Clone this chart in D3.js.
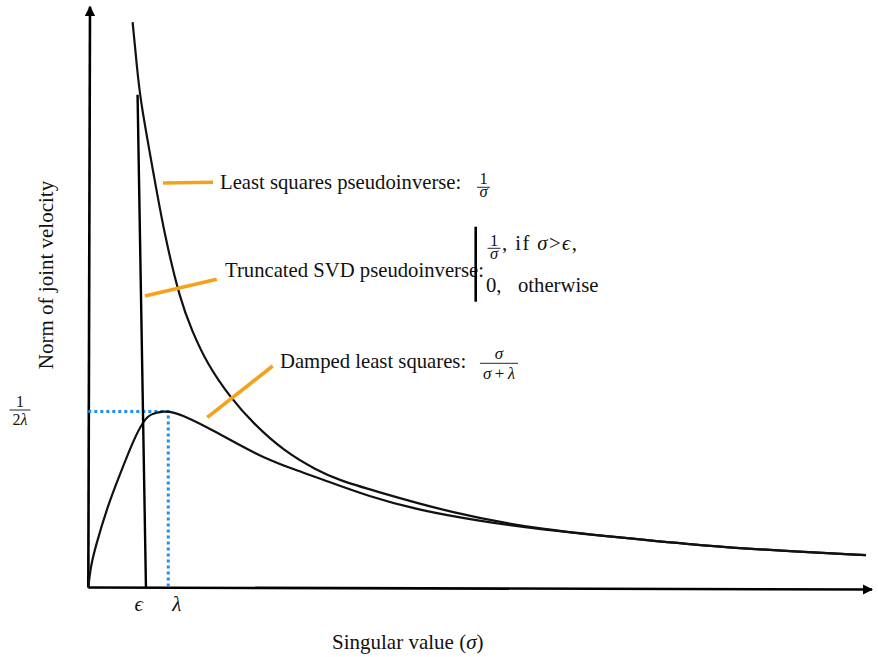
<!DOCTYPE html>
<html><head><meta charset="utf-8">
<script src="https://cdn.jsdelivr.net/npm/d3@7"></script>
<style>
body{margin:0;background:#fff}
svg{display:block}
text{font-family:"Liberation Serif","Times New Roman",serif;fill:#111}
.it{font-style:italic}
</style>
</head><body><svg id="c" width="878" height="657"></svg>
<script>
// ---- data (sigma in units of lambda, value = norm of joint velocity) ----
const epsilon = 0.72;
const lambda = 1.0;
const peakValue = 0.5;            // 1/(2 lambda)
const sigmaMax = 9.8;
const valueMax = 1.65;

// Least squares pseudoinverse 1/sigma
const lsSigma = [0.554,0.609,0.650,0.838,0.950,1.150,1.296,1.484,1.775,2.063,2.438,2.863,3.150,3.525,4.563,5.613,6.650,7.650,8.900,9.725];
const lsValue = [1.606,1.478,1.384,1.148,1.006,0.815,0.730,0.636,0.540,0.466,0.389,0.332,0.304,0.278,0.210,0.166,0.142,0.119,0.101,0.092];

// Damped least squares sigma/(sigma^2+lambda^2)
const dlsSigma = [0.000,0.030,0.088,0.234,0.400,0.563,0.691,0.780,0.950,1.050,1.234,1.563,1.859,2.188,2.609,2.859,3.525,4.150,4.863,5.613,6.650,7.650,8.900,9.725];
const dlsValue = [0.000,0.060,0.114,0.227,0.324,0.418,0.474,0.494,0.501,0.499,0.484,0.446,0.409,0.369,0.332,0.313,0.257,0.219,0.190,0.166,0.142,0.119,0.101,0.092];

// Truncated SVD: vertical drop at epsilon
const tsvdSigma = [0.721,0.616];
const tsvdValue = [0.000,1.400];

const xTickValues = [epsilon, lambda];
const xTickLabels = ["\u03F5", "\u03BB"];

// ---- drawing ----
const svg = d3.select("#c");
const x = d3.scaleLinear().domain([0, sigmaMax]).range([88.3, 872]);
const y = d3.scaleLinear().domain([0, valueMax]).range([587.5, 6.7]);

const defs = svg.append("defs");
defs.append("marker").attr("id","arr").attr("viewBox","0 0 10 10")
  .attr("refX",9).attr("refY",5).attr("markerWidth",4).attr("markerHeight",4)
  .attr("orient","auto").attr("markerUnits","strokeWidth")
  .append("path").attr("d","M0,0L10,5L0,10z").attr("fill","#000");

// axes lines with arrows
svg.append("line").attr("x1",x(0)).attr("y1",y(0)).attr("x2",x(0)+1.7).attr("y2",y(valueMax))
  .attr("stroke","#000").attr("stroke-width",2.6).attr("marker-end","url(#arr)");
svg.append("line").attr("x1",x(0)).attr("y1",y(0)).attr("x2",x(sigmaMax)).attr("y2",y(0)+2)
  .attr("stroke","#000").attr("stroke-width",2.6).attr("marker-end","url(#arr)");

const line = d3.line().x(d=>x(d[0])).y(d=>y(d[1])).curve(d3.curveBasis);
const zip = (a,b)=>a.map((s,i)=>[s,b[i]]);

// dotted guide lines
const blue = "#1f8ff0";
svg.append("path")
  .attr("d", d3.line()([[x(0),y(peakValue)],[x(lambda),y(peakValue)],[x(lambda),y(0)]]))
  .attr("fill","none").attr("stroke",blue).attr("stroke-width",3).attr("stroke-dasharray","3,3");

svg.append("path").attr("d", line(zip(lsSigma,lsValue)))
  .attr("fill","none").attr("stroke","#111").attr("stroke-width",2.2);
svg.append("path").attr("d", line(zip(dlsSigma,dlsValue)))
  .attr("fill","none").attr("stroke","#111").attr("stroke-width",2.2);
svg.append("path").attr("d", d3.line().x(d=>x(d[0])).y(d=>y(d[1]))(zip(tsvdSigma,tsvdValue)))
  .attr("fill","none").attr("stroke","#000").attr("stroke-width",2.4);

// x tick labels via axis
const xAxis = d3.axisBottom(x).tickValues(xTickValues).tickSize(0)
  .tickFormat((d,i)=>xTickLabels[i]);
const gx = svg.append("g").attr("transform",`translate(0,${y(0)})`).call(xAxis);
gx.select(".domain").remove();
const tickDx = [-7.6, 8];
gx.selectAll(".tick text").attr("class","it").attr("font-size",21)
  .attr("font-family","'Liberation Serif','DejaVu Serif',serif").attr("fill","#111")
  .attr("dy",0).attr("y",23).attr("dx",(d,i)=>tickDx[i]);

// fraction helper: one text element with numerator & denominator tspans
function frac(cx, yNum, yBar, yDen, numParts, denParts, w, size, denLen){
  const t = svg.append("text").attr("font-size",size).attr("text-anchor","middle");
  const n = t.append("tspan").attr("x",cx).attr("y",yNum);
  numParts.forEach(p=>n.append("tspan").attr("class",p[1]?"it":null).text(p[0]));
  const d = t.append("tspan").attr("x",cx).attr("y",yDen);
  denParts.forEach(p=>d.append("tspan").attr("class",p[1]?"it":null).text(p[0]));
  svg.append("line").attr("x1",cx-w/2).attr("x2",cx+w/2).attr("y1",yBar).attr("y2",yBar)
    .attr("stroke","#111").attr("stroke-width",0.9);
  return t;
}

// y tick: 1/(2 lambda)
frac(20, y(peakValue)-5, y(peakValue)-1.5, y(peakValue)+13, [["1",false]], [["2",false],["\u03BB",true]], 21, 16);

// orange pointer lines
const orange = "#f7a11a";
const pointers = [[163,183,213,182.3],[145,296,216.7,279.3],[207.3,417.3,272.7,366]];
pointers.forEach(p=>svg.append("line").attr("x1",p[0]).attr("y1",p[1]).attr("x2",p[2]).attr("y2",p[3])
  .attr("stroke",orange).attr("stroke-width",3.6));

// annotation texts
const fs = 20.7;
svg.append("text").attr("x",220).attr("y",189).attr("font-size",fs).text("Least squares pseudoinverse:");
frac(483.5, 184, 187.3, 197, [["1",false]], [["\u03C3",true]], 13, 16.5);

svg.append("text").attr("x",225).attr("y",277).attr("font-size",fs).text("Truncated SVD pseudoinverse:");
svg.append("line").attr("x1",475.7).attr("x2",475.7).attr("y1",226.7).attr("y2",301.7).attr("stroke","#000").attr("stroke-width",2.6);
frac(494, 245.5, 248.3, 258.5, [["1",false]], [["\u03C3",true]], 13, 16.5);
const cond = svg.append("text").attr("x",502).attr("y",250).attr("font-size",fs)
  .attr("textLength",75).attr("lengthAdjust","spacing");
cond.append("tspan").text(", if ");
cond.append("tspan").attr("class","it").text("\u03C3");
cond.append("tspan").text(">");
cond.append("tspan").attr("class","it").text("\u03F5");
cond.append("tspan").text(",");
svg.append("text").attr("x",486).attr("y",292).attr("font-size",fs).text("0,");
svg.append("text").attr("x",518).attr("y",292).attr("font-size",fs).text("otherwise");

svg.append("text").attr("x",280).attr("y",368).attr("font-size",fs).text("Damped least squares:");
frac(499, 359, 363.3, 378.5, [["\u03C3",true]], [["\u03C3",true],["\u2009+\u2009",false],["\u03BB",true]], 38, 17);

// axis titles
const xt = svg.append("text").attr("x",332).attr("y",649).attr("font-size",21);
xt.append("tspan").text("Singular value (");
xt.append("tspan").attr("class","it").text("\u03C3");
xt.append("tspan").text(")");
svg.append("text").attr("transform","translate(53,275) rotate(-90)").attr("text-anchor","middle")
  .attr("font-size",21).text("Norm of joint velocity");
</script>
</body></html>
